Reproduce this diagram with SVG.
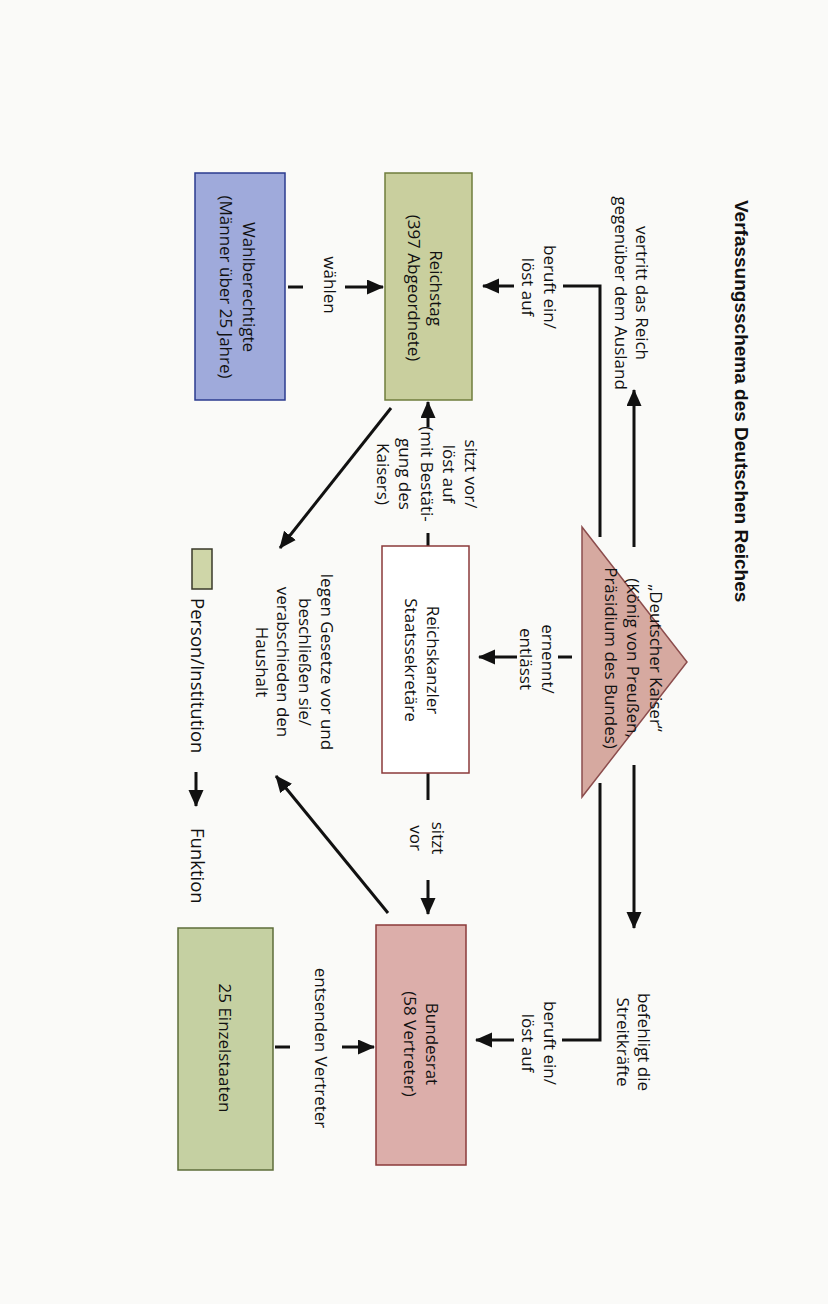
<svg xmlns="http://www.w3.org/2000/svg" width="828" height="1304" viewBox="0 0 828 1304">
<defs>
<marker id="ah" markerUnits="userSpaceOnUse" markerWidth="18" markerHeight="16" refX="16" refY="7.5" orient="auto">
<path d="M0,0 L17,7.5 L0,15 z" fill="#111"/>
</marker>
<style>
.t{font-family:"Open Sans","Noto Sans","Liberation Sans",sans-serif;font-size:17px;fill:#111;text-anchor:middle;dominant-baseline:central}
.ts{font-family:"Open Sans","Noto Sans","Liberation Sans",sans-serif;font-size:18.5px;fill:#111;text-anchor:start;dominant-baseline:central}
.ttl{font-family:"Liberation Sans",Arial,sans-serif;font-size:19px;font-weight:bold;fill:#111;text-anchor:start;dominant-baseline:central}
.ln{stroke:#111;stroke-width:3;fill:none}
.ar{stroke:#111;stroke-width:3;fill:none;marker-end:url(#ah)}
</style>
</defs>
<rect width="828" height="1304" fill="#fafaf8"/>

<g id="title"><text class="ttl" transform="translate(741,200) rotate(90)">Verfassungsschema des Deutschen Reiches</text></g>

<g id="connectors">
<polyline class="ln" points="600,537 600,286 563,286"/>
<line class="ar" x1="514" y1="286" x2="483" y2="286"/>
<polyline class="ln" points="600,783 600,1040 562,1040"/>
<line class="ar" x1="514" y1="1040" x2="476" y2="1040"/>
<line class="ar" x1="634" y1="547" x2="634" y2="390"/>
<line class="ar" x1="634" y1="765" x2="634" y2="928"/>
<line class="ln" x1="558" y1="657" x2="572" y2="657"/>
<line class="ar" x1="517" y1="657" x2="479" y2="657"/>
<line class="ar" x1="428" y1="427" x2="428" y2="402"/>
<line class="ln" x1="428" y1="533" x2="428" y2="546"/>
<line class="ar" x1="391" y1="408" x2="280" y2="548"/>
<line class="ar" x1="388" y1="913" x2="276" y2="776"/>
<line class="ln" x1="428" y1="773" x2="428" y2="800"/>
<line class="ar" x1="428" y1="880" x2="428" y2="914"/>
<line class="ln" x1="288" y1="287" x2="303" y2="287"/>
<line class="ar" x1="345" y1="287" x2="383" y2="287"/>
<line class="ln" x1="275" y1="1047" x2="290" y2="1047"/>
<line class="ar" x1="342" y1="1047" x2="374" y2="1047"/>
</g>

<g id="labels">
<g transform="translate(633,293) rotate(90)"><text class="t"><tspan x="0" y="-10">vertritt das Reich</tspan><tspan x="0" y="11">gegenüber dem Ausland</tspan></text></g>
<g transform="translate(540,287) rotate(90)"><text class="t"><tspan x="0" y="-11">beruft ein/</tspan><tspan x="0" y="11">löst auf</tspan></text></g>
<g transform="translate(540,1043) rotate(90)"><text class="t"><tspan x="0" y="-11">beruft ein/</tspan><tspan x="0" y="11">löst auf</tspan></text></g>
<g transform="translate(635,1042) rotate(90)"><text class="t"><tspan x="0" y="-10">befehligt die</tspan><tspan x="0" y="11">Streitkräfte</tspan></text></g>
<g transform="translate(538,659) rotate(90)"><text class="t"><tspan x="0" y="-11">ernennt/</tspan><tspan x="0" y="11">entlässt</tspan></text></g>
<g transform="translate(428,474) rotate(90)"><text class="t"><tspan x="0" y="-44">sitzt vor/</tspan><tspan x="0" y="-22">löst auf</tspan><tspan x="0" y="0">(mit Bestäti-</tspan><tspan x="0" y="22">gung des</tspan><tspan x="0" y="44">Kaisers)</tspan></text></g>
<g transform="translate(295,662) rotate(90)"><text class="t"><tspan x="0" y="-32.5">legen Gesetze vor und</tspan><tspan x="0" y="-10.8">beschließen sie/</tspan><tspan x="0" y="10.8">verabschieden den</tspan><tspan x="0" y="32.5">Haushalt</tspan></text></g>
<g transform="translate(428,838) rotate(90)"><text class="t"><tspan x="0" y="-11">sitzt</tspan><tspan x="0" y="11">vor</tspan></text></g>
<g transform="translate(330,285) rotate(90)"><text class="t">wählen</text></g>
<g transform="translate(321,1048) rotate(90)"><text class="t">entsenden Vertreter</text></g>
</g>

<g id="kaiser">
<polygon points="582,527 687,662 582,797" fill="#d6a9a0" stroke="#8c4d4d" stroke-width="1.5"/>
<g transform="translate(634,658) rotate(90)"><text class="t"><tspan x="0" y="-22.5">„Deutscher Kaiser“</tspan><tspan x="0" y="0">(König von Preußen,</tspan><tspan x="0" y="22.5">Präsidium des Bundes)</tspan></text></g>
</g>

<g id="reichstag">
<rect x="385" y="173" width="87" height="227" fill="#c9cf9e" stroke="#6f7d3c" stroke-width="1.5"/>
<g transform="translate(426,288) rotate(90)"><text class="t"><tspan x="0" y="-11">Reichstag</tspan><tspan x="0" y="11">(397 Abgeordnete)</tspan></text></g>
</g>

<g id="wahlberechtigte">
<rect x="195" y="173" width="90" height="227" fill="#9faadb" stroke="#2b3b8f" stroke-width="1.5"/>
<g transform="translate(238,287) rotate(90)"><text class="t"><tspan x="0" y="-12">Wahlberechtigte</tspan><tspan x="0" y="11">(Männer über 25 Jahre)</tspan></text></g>
</g>

<g id="reichskanzler">
<rect x="382" y="546" width="87" height="227" fill="#ffffff" stroke="#8b3a3a" stroke-width="1.5"/>
<g transform="translate(423,660) rotate(90)"><text class="t"><tspan x="0" y="-11">Reichskanzler</tspan><tspan x="0" y="11">Staatssekretäre</tspan></text></g>
</g>

<g id="bundesrat">
<rect x="376" y="925" width="90" height="240" fill="#dcaeaa" stroke="#8b3a3a" stroke-width="1.5"/>
<g transform="translate(422,1044) rotate(90)"><text class="t"><tspan x="0" y="-11">Bundesrat</tspan><tspan x="0" y="11">(58 Vertreter)</tspan></text></g>
</g>

<g id="einzelstaaten">
<rect x="178" y="928" width="95" height="242" fill="#c5d0a2" stroke="#5d6d3a" stroke-width="1.5"/>
<g transform="translate(225,1048) rotate(90)"><text class="t">25 Einzelstaaten</text></g>
</g>

<g id="legend">
<rect x="192" y="549" width="20" height="40" fill="#cfd6a8" stroke="#3a3a2a" stroke-width="1.5"/>
<g transform="translate(198,598) rotate(90)"><text class="ts">Person/Institution</text></g>
<line class="ar" x1="196" y1="772" x2="196" y2="806"/>
<g transform="translate(198,828) rotate(90)"><text class="ts">Funktion</text></g>
</g>
</svg>
